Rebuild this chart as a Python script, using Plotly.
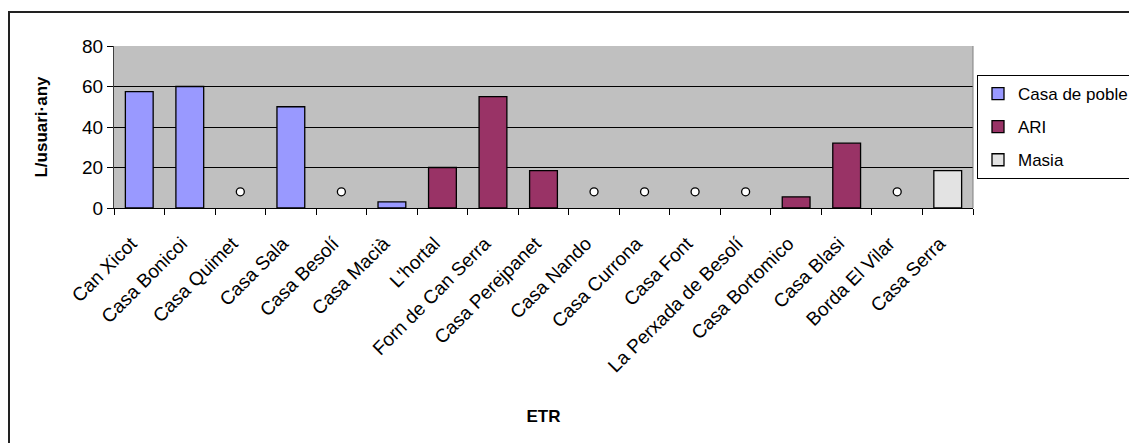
import plotly.graph_objects as go

categories = ["Can Xicot", "Casa Bonicoi", "Casa Quimet", "Casa Sala", "Casa Besolí",
              "Casa Macià", "L'hortal", "Forn de Can Serra", "Casa Perejpanet",
              "Casa Nando", "Casa Currona", "Casa Font", "La Perxada de Besolí",
              "Casa Bortomico", "Casa Blasi", "Borda El Vilar", "Casa Serra"]

casa_de_poble = [57.5, 60, None, 50, None, 3, None, None, None, None, None, None, None, None, None, None, None]
ari = [None, None, None, None, None, None, 20, 55, 18.5, None, None, None, None, 5.5, 32, None, None]
masia = [None, None, None, None, None, None, None, None, None, None, None, None, None, None, None, None, 18.5]
sense_dades = [None, None, 8, None, 8, None, None, None, None, 8, 8, 8, 8, None, None, 8, None]

FONT = "Liberation Sans, Arial, sans-serif"

fig = go.Figure()
fig.add_trace(go.Bar(x=categories, y=casa_de_poble, name="Casa de poble", legendgroup="a",
                     marker=dict(color="#9999FF", line=dict(color="black", width=1.3))))
fig.add_trace(go.Bar(x=categories, y=ari, name="ARI", legendgroup="b",
                     marker=dict(color="#993366", line=dict(color="black", width=1.3))))
fig.add_trace(go.Bar(x=categories, y=masia, name="Masia", legendgroup="c",
                     marker=dict(color="#E3E3E3", line=dict(color="black", width=1.3))))
fig.add_trace(go.Scatter(x=categories, y=sense_dades, mode="markers", showlegend=False,
                         marker=dict(color="white", size=8, line=dict(color="black", width=1.3))))

# the page body adds an 8px offset; figure coordinates below are window - 8
W, H = 1129, 435
ml, mr, mt, mb = 106, 164, 38, 235
pw, ph = W - ml - mr, H - mt - mb

fig.update_layout(
    width=W, height=H,
    margin=dict(l=ml, r=mr, t=mt, b=mb, autoexpand=False),
    paper_bgcolor="white", plot_bgcolor="#C0C0C0",
    barmode="overlay", bargap=0.45,
    font=dict(family=FONT, size=19, color="black"),
    xaxis=dict(
        type="category", range=[-0.5, len(categories) - 0.5],
        tickangle=-45, tickson="boundaries", automargin=False,
        ticks="outside", ticklen=6, tickcolor="black", tickwidth=1,
        ticklabelstandoff=16, ticklabelshift=-8,
        showline=True, linecolor="black", linewidth=1, showgrid=False,
        tickfont=dict(family=FONT, size=19, color="black"),
        title=dict(text="<b>ETR</b>", font=dict(family=FONT, size=17), standoff=34),
    ),
    yaxis=dict(
        range=[0, 80], dtick=20, ticks="outside", ticklen=6, tickcolor="black", automargin=False,
        showline=True, linecolor="#404040", linewidth=1,
        showgrid=True, gridcolor="black", gridwidth=1, zeroline=False,
        tickfont=dict(family=FONT, size=19, color="black"),
        title=dict(text="<b>L/usuari·any</b>", font=dict(family=FONT, size=17), standoff=30),
    ),
    legend=dict(
        x=(969 - ml) / pw, y=(H - mb - 67) / ph, xanchor="left", yanchor="top",
        bordercolor="black", borderwidth=1, bgcolor="white",
        tracegroupgap=8, itemwidth=30,
        font=dict(family=FONT, size=17, color="black"),
    ),
    showlegend=True,
)

fig.add_shape(type="rect", xref="paper", yref="paper",
              x0=(1 - ml) / pw, x1=1.4, y0=-2.0, y1=(H - mb - 4) / ph,
              line=dict(color="#222222", width=2), layer="below")
fig.add_shape(type="line", xref="paper", yref="paper", x0=1, x1=1, y0=0, y1=1,
              line=dict(color="#808080", width=1))

fig.write_html("out.html")
